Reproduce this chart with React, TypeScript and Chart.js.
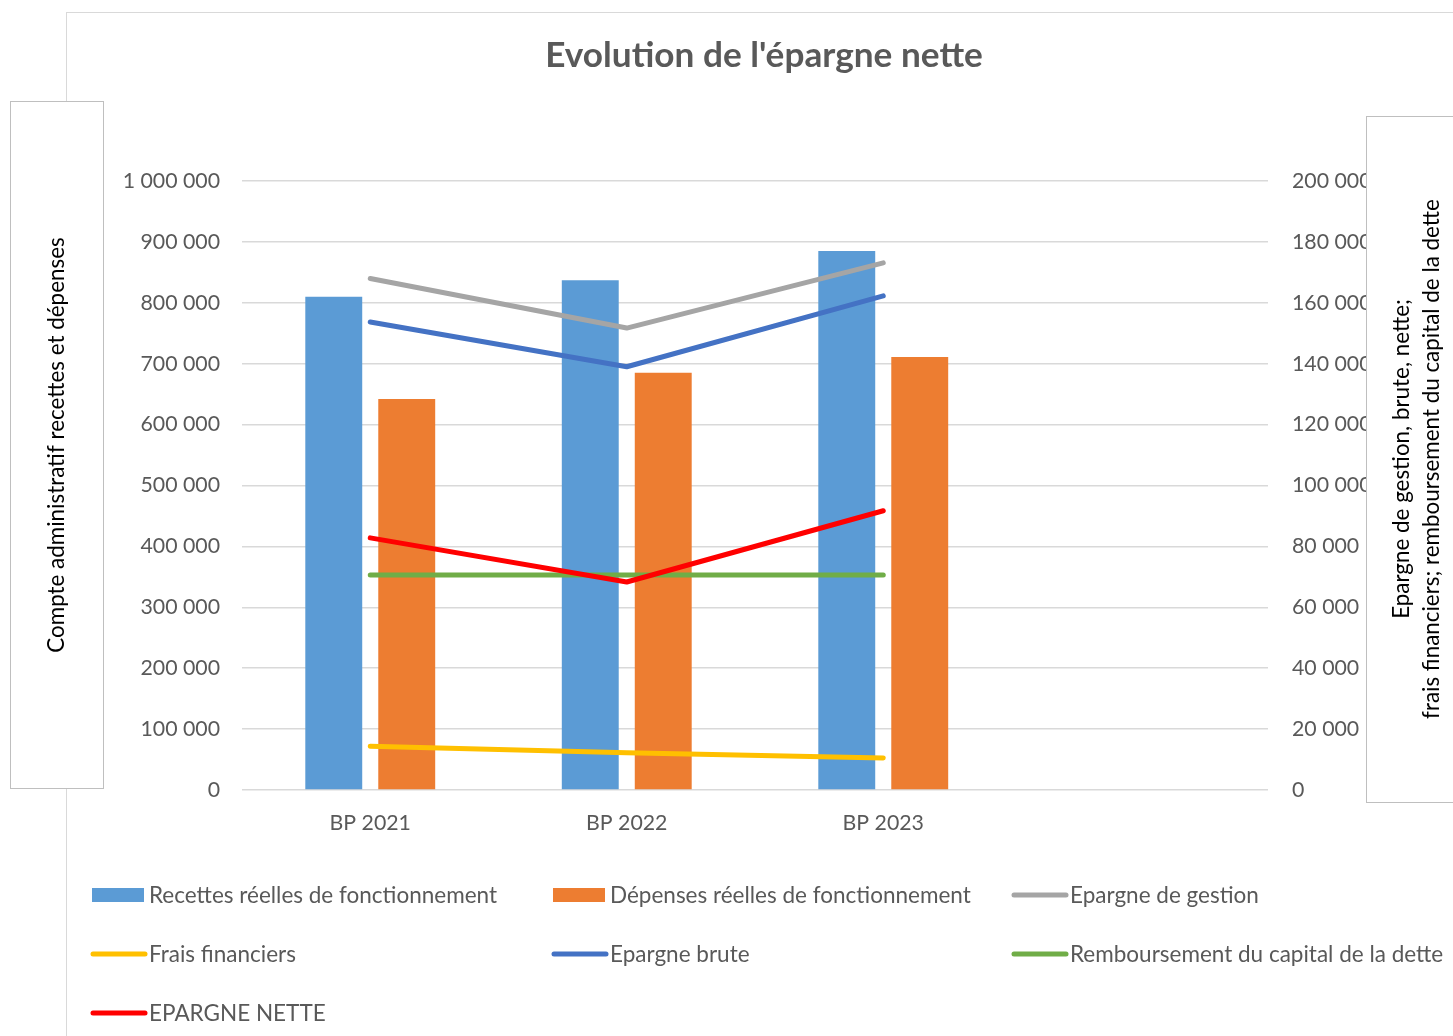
import React, { useEffect, useRef } from "react";
import { Chart, registerables } from "chart.js";

Chart.register(...registerables);

const W = 1453;
const H = 1036;
const FONT = "Lato, 'Open Sans', sans-serif";

const chartTitle = "Evolution de l'épargne nette";
const leftAxisTitle = "Compte administratif recettes et dépenses";
const rightAxisTitle = ["Epargne de gestion, brute, nette;", "frais financiers; remboursement du capital de la dette"];

const categories = ["BP 2021", "BP 2022", "BP 2023", ""];
const recettes = [810000, 837000, 885000];
const depenses = [642000, 685000, 711000];
const epargneGestion = [168000, 151700, 173100];
const fraisFinanciers = [14400, 12200, 10500];
const epargneBrute = [153700, 139000, 162300];
const remboursement = [70600, 70600, 70600];
const epargneNette = [82800, 68300, 91700];

const seriesNames = [
  "Recettes réelles de fonctionnement",
  "Dépenses réelles de fonctionnement",
  "Epargne de gestion",
  "Frais financiers",
  "Epargne brute",
  "Remboursement du capital de la dette",
  "EPARGNE NETTE",
];
const seriesColors = ["#5B9BD5", "#ED7D31", "#A5A5A5", "#FFC000", "#4472C4", "#70AD47", "#FF0000"];

const fmt = (v: number | string) =>
  String(Math.round(Number(v))).replace(/\B(?=(\d{3})+(?!\d))/g, " ");

const decor = {
  id: "decor",
  beforeDraw(chart: any) {
    const ctx = chart.ctx as CanvasRenderingContext2D;
    ctx.save();
    ctx.fillStyle = "#ffffff";
    ctx.fillRect(0, 0, W, H);
    ctx.strokeStyle = "#D9D9D9";
    ctx.lineWidth = 1;
    ctx.strokeRect(66.5, 12.5, 1400, 1100);
    ctx.fillStyle = "#595959";
    ctx.font = `bold 35.2px ${FONT}`;
    ctx.textAlign = "center";
    ctx.textBaseline = "middle";
    ctx.fillText(chartTitle, 764, 56);

    // legend
    const cols = [92, 553, 1013];
    const rows = [895, 954, 1013];
    ctx.font = `22.5px ${FONT}`;
    ctx.textAlign = "left";
    chart.data.datasets.forEach((ds: any, i: number) => {
      const cx = cols[i % 3];
      const cy = rows[Math.floor(i / 3)];
      if (ds.type === "bar") {
        ctx.fillStyle = ds.backgroundColor;
        ctx.fillRect(cx, cy - 7, 52, 14);
      } else {
        ctx.strokeStyle = ds.borderColor;
        ctx.lineWidth = 5;
        ctx.lineCap = "round";
        ctx.beginPath();
        ctx.moveTo(cx + 1, cy);
        ctx.lineTo(cx + 53, cy);
        ctx.stroke();
      }
      ctx.fillStyle = "#595959";
      ctx.fillText(ds.label, cx + 57, cy + 1);
    });
    ctx.restore();
  },
  afterDraw(chart: any) {
    const ctx = chart.ctx as CanvasRenderingContext2D;
    ctx.save();
    ctx.lineWidth = 1;
    ctx.strokeStyle = "#BFBFBF";
    ctx.fillStyle = "#ffffff";
    // left axis title box
    ctx.fillRect(10.5, 101.5, 93, 687);
    ctx.strokeRect(10.5, 101.5, 93, 687);
    // right axis title box
    ctx.fillRect(1366.5, 116.5, 110, 686);
    ctx.strokeRect(1366.5, 116.5, 110, 686);

    ctx.fillStyle = "#000000";
    ctx.font = `22.4px ${FONT}`;
    ctx.textAlign = "center";
    ctx.textBaseline = "middle";
    ctx.save();
    ctx.translate(57, 445);
    ctx.rotate(-Math.PI / 2);
    ctx.fillText(leftAxisTitle, 0, 0);
    ctx.restore();

    ctx.save();
    ctx.translate(1417, 459);
    ctx.rotate(-Math.PI / 2);
    ctx.fillText(rightAxisTitle[0], 0, -15);
    ctx.fillText(rightAxisTitle[1], 0, 15);
    ctx.restore();
    ctx.restore();
  },
};

export default function App() {
  const ref = useRef<HTMLCanvasElement | null>(null);
  useEffect(() => {
    if (!ref.current) return;
    const lineDs = (i: number, data: number[], order: number) => ({
      type: "line" as const,
      label: seriesNames[i],
      data,
      yAxisID: "y1",
      borderColor: seriesColors[i],
      backgroundColor: seriesColors[i],
      borderWidth: 5,
      borderCapStyle: "round" as const,
      borderJoinStyle: "round" as const,
      pointRadius: 0,
      tension: 0,
      order,
    });
    const tickFont = { family: FONT, size: 21.3 };
    const chart = new Chart(ref.current, {
      type: "bar",
      data: {
        labels: categories,
        datasets: [
          {
            type: "bar",
            label: seriesNames[0],
            data: recettes,
            yAxisID: "y",
            backgroundColor: seriesColors[0],
            categoryPercentage: 0.569,
            barPercentage: 0.78,
            order: 20,
          },
          {
            type: "bar",
            label: seriesNames[1],
            data: depenses,
            yAxisID: "y",
            backgroundColor: seriesColors[1],
            categoryPercentage: 0.569,
            barPercentage: 0.78,
            order: 21,
          },
          lineDs(2, epargneGestion, 5),
          lineDs(3, fraisFinanciers, 4),
          lineDs(4, epargneBrute, 3),
          lineDs(5, remboursement, 2),
          lineDs(6, epargneNette, 1),
        ] as any,
      },
      options: {
        responsive: false,
        animation: false,
        devicePixelRatio: 1,
        layout: { padding: { top: 181, left: 0, right: 0, bottom: 0 } },
        plugins: {
          legend: { display: false },
          title: { display: false },
          tooltip: { enabled: false },
        },
        scales: {
          x: {
            offset: true,
            grid: { display: false },
            border: { display: false },
            ticks: { color: "#595959", font: tickFont, padding: 12, maxRotation: 0 },
            afterFit: (s: any) => {
              s.height = 246;
            },
          },
          y: {
            position: "left",
            min: 0,
            max: 1000000,
            ticks: {
              stepSize: 100000,
              callback: (v: any) => fmt(v),
              color: "#595959",
              font: tickFont,
              padding: 22,
            },
            grid: { color: "#D9D9D9", lineWidth: 1.5, drawTicks: false },
            border: { display: false },
            afterFit: (s: any) => {
              s.width = 242;
            },
          },
          y1: {
            position: "right",
            min: 0,
            max: 200000,
            ticks: {
              stepSize: 20000,
              callback: (v: any) => fmt(v),
              color: "#595959",
              font: tickFont,
              padding: 24,
            },
            grid: { display: false, drawTicks: false },
            border: { display: false },
            afterFit: (s: any) => {
              s.width = 185;
            },
          },
        },
      } as any,
      plugins: [decor],
    });
    return () => chart.destroy();
  }, []);
  return (
    <div style={{ position: "absolute", left: 0, top: 0, width: W, height: H, background: "#fff" }}>
      <canvas ref={ref} width={W} height={H} style={{ display: "block", width: W, height: H }} />
    </div>
  );
}
